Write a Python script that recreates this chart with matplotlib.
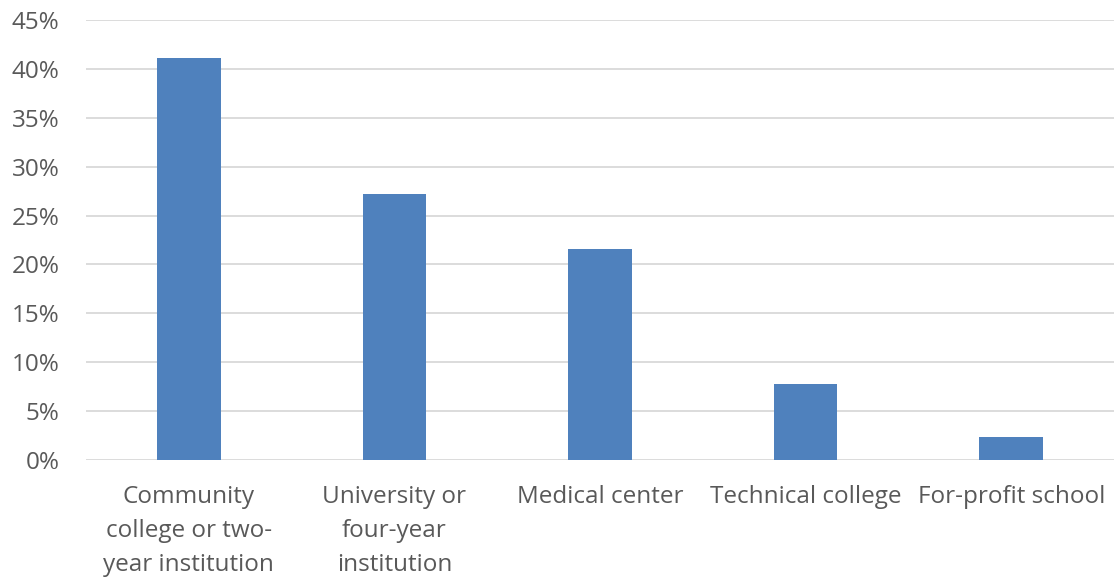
import matplotlib.pyplot as plt
from matplotlib.ticker import PercentFormatter

categories = ["Community\ncollege or two-\nyear institution",
              "University or\nfour-year\ninstitution",
              "Medical center",
              "Technical college",
              "For-profit school"]
shares = [41.1, 27.2, 21.6, 7.8, 2.4]
y_ticks = [0, 5, 10, 15, 20, 25, 30, 35, 40, 45]

plt.rcParams['font.family'] = ['Open Sans', 'DejaVu Sans']

fig = plt.figure(figsize=(11.14, 5.82), dpi=100)
ax = fig.add_axes([86 / 1114, 1 - 460 / 582, 1028 / 1114, 440 / 582])

x = range(len(categories))
ax.bar(x, shares, width=0.31, color="#4f81bd", zorder=3)

ax.set_xlim(-0.5, len(categories) - 0.5)
ax.set_ylim(0, 45)
ax.set_yticks(y_ticks)
ax.yaxis.set_major_formatter(PercentFormatter(decimals=0))
ax.set_xticks(list(x))
ax.set_xticklabels(categories, linespacing=1.55)

ax.grid(axis="y", color="#d9d9d9", linewidth=1.3, zorder=0)
for s in ["top", "right", "left", "bottom"]:
    ax.spines[s].set_visible(False)
ax.tick_params(axis="both", length=0, labelsize=17.5, colors="#595959")
ax.tick_params(axis="x", pad=18)
ax.tick_params(axis="y", pad=19)

fig.savefig("out.png", dpi=100)
